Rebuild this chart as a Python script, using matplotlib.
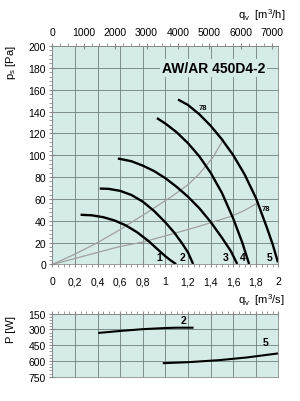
import matplotlib.pyplot as plt
from matplotlib.ticker import MultipleLocator, FuncFormatter

plt.rcParams['font.family'] = ['Liberation Sans', 'DejaVu Sans']

# fan curves: air flow q [m3/s] -> static pressure ps [Pa]
q1 = [0.25, 0.35, 0.45, 0.55, 0.65, 0.75, 0.85, 0.93, 1.00, 1.05, 1.095]
p1 = [45.5, 45.0, 43.3, 40.3, 35.8, 29.5, 21.5, 14.0, 7.5, 3.5, 0.3]
q2 = [0.42, 0.50, 0.60, 0.70, 0.80, 0.90, 1.00, 1.08, 1.15, 1.20, 1.245]
p2 = [69.5, 69.2, 67.4, 63.6, 57.5, 49.0, 38.5, 29.0, 19.0, 11.0, 0.5]
q3 = [0.58, 0.70, 0.80, 0.90, 1.00, 1.10, 1.20, 1.30, 1.40, 1.50, 1.58, 1.635]
p3 = [97.0, 94.5, 90.5, 85.5, 79.0, 71.0, 62.0, 51.5, 39.0, 24.5, 12.0, 0.5]
q4 = [0.925, 1.00, 1.10, 1.20, 1.30, 1.40, 1.50, 1.60, 1.68, 1.74]
p4 = [134.0, 129.0, 121.0, 111.0, 99.0, 84.0, 65.5, 42.0, 20.0, 0.5]
q5 = [1.112, 1.20, 1.30, 1.40, 1.50, 1.60, 1.70, 1.80, 1.90, 1.95, 1.995]
p5 = [151.0, 146.0, 137.5, 127.0, 114.5, 100.0, 82.5, 61.0, 33.0, 18.0, 2.0]

# gray system lines
qs_a = [0, 0.2, 0.4, 0.6, 0.86, 1.08, 1.2, 1.3, 1.42, 1.51]
ps_a = [0, 9.5, 20.0, 32.0, 49.0, 64.0, 73.0, 83.0, 98.0, 114.0]
qs_b = [0, 0.2, 0.4, 0.6, 0.8, 1.08, 1.3, 1.58, 1.7, 1.82]
ps_b = [0, 5.5, 11.0, 16.5, 20.5, 28.5, 35.0, 44.0, 49.5, 56.5]

# power input [W]
qw2 = [0.415, 0.6, 0.8, 1.0, 1.1, 1.24]
pw2 = [333, 315, 298, 287, 284, 284]
qw5 = [0.986, 1.2, 1.48, 1.72, 1.986]
pw5 = [621, 612, 592, 567, 530]

bg = '#d5ebe7'
grid_c = '#6f7f7d'
spine_c = '#8a8a8a'

fig = plt.figure(figsize=(3, 4.02), dpi=100)
ax = fig.add_axes([0.1743, 0.3396, 0.754, 0.5435])
ax2 = fig.add_axes([0.1743, 0.0604, 0.754, 0.157])

for a in (ax, ax2):
    a.set_facecolor(bg)
    a.set_xlim(0, 2)
    a.xaxis.set_major_locator(MultipleLocator(0.2))
    a.xaxis.set_minor_locator(MultipleLocator(0.05))
    a.grid(True, which='major', color=grid_c, lw=0.6)
    a.set_axisbelow(True)
    for s in a.spines.values():
        s.set_color(spine_c)
        s.set_linewidth(0.6)
    a.tick_params(which='major', direction='inout', length=5, color=spine_c,
                  labelsize=7.5, pad=2)
    a.tick_params(which='minor', direction='out', length=2.5, color=spine_c)

# main chart
ax.set_ylim(0, 200)
ax.yaxis.set_major_locator(MultipleLocator(20))
ax.yaxis.set_minor_locator(MultipleLocator(4))
ax.xaxis.set_major_formatter(FuncFormatter(lambda v, p: f"{v:.1f}".rstrip('0').rstrip('.').replace('.', ',')))
ax.tick_params(axis='x', which='major', pad=6)

ax.plot(qs_a, ps_a, color='#a0a0a0', lw=0.9)
ax.plot(qs_b, ps_b, color='#a0a0a0', lw=0.9)
for qq, pp in [(q1, p1), (q2, p2), (q3, p3), (q4, p4), (q5, p5)]:
    ax.plot(qq, pp, color='black', lw=1.7, solid_capstyle='butt', solid_joinstyle='round')

for x, txt in [(0.95, '1'), (1.147, '2'), (1.535, '3'), (1.685, '4'), (1.92, '5')]:
    ax.text(x, 7, txt, fontsize=7.5, fontweight='bold', ha='center', va='center')
ax.text(1.33, 144, '78', fontsize=5.5, fontweight='bold', ha='center', va='center')
ax.text(1.885, 51, '78', fontsize=5.5, fontweight='bold', ha='center', va='center')

ax.text(1.88, 180, 'AW/AR 450D4-2', fontsize=10, fontweight='bold', ha='right', va='center',
        bbox=dict(facecolor=bg, edgecolor='none', pad=1.5))

sec = ax.secondary_xaxis('top', functions=(lambda q: q * 3600, lambda v: v / 3600))
sec.set_xticks(range(0, 8000, 1000))
sec.xaxis.set_minor_locator(MultipleLocator(250))
sec.tick_params(which='major', direction='inout', length=5, color=spine_c, labelsize=7.5, pad=4)
sec.tick_params(which='minor', direction='out', length=2.5, color=spine_c)
sec.spines['top'].set_color(spine_c)
sec.spines['top'].set_linewidth(0.6)

# power chart
ax2.set_ylim(750, 150)
ax2.yaxis.set_major_locator(MultipleLocator(150))
ax2.yaxis.set_minor_locator(MultipleLocator(30))
ax2.xaxis.set_ticks_position('top')
ax2.tick_params(axis='x', which='both', labeltop=False, labelbottom=False)
ax2.plot(qw2, pw2, color='black', lw=1.5)
ax2.plot(qw5, pw5, color='black', lw=1.5)
ax2.text(1.16, 214, '2', fontsize=7.5, fontweight='bold', ha='center', va='center')
ax2.text(1.886, 421, '5', fontsize=7.5, fontweight='bold', ha='center', va='center')

# axis titles
fig.text(0.95, 0.963, r'q$_\mathregular{v}$  [m$^\mathregular{3}$/h]', fontsize=8, ha='right', va='center')
fig.text(0.95, 0.253, r'q$_\mathregular{v}$  [m$^\mathregular{3}$/s]', fontsize=8, ha='right', va='center')
fig.text(0.035, 0.845, r'p$_\mathregular{s}$ [Pa]', fontsize=8, rotation=90, ha='center', va='center')
fig.text(0.035, 0.18, 'P [W]', fontsize=8, rotation=90, ha='center', va='center')

fig.savefig('out.png', dpi=100)
